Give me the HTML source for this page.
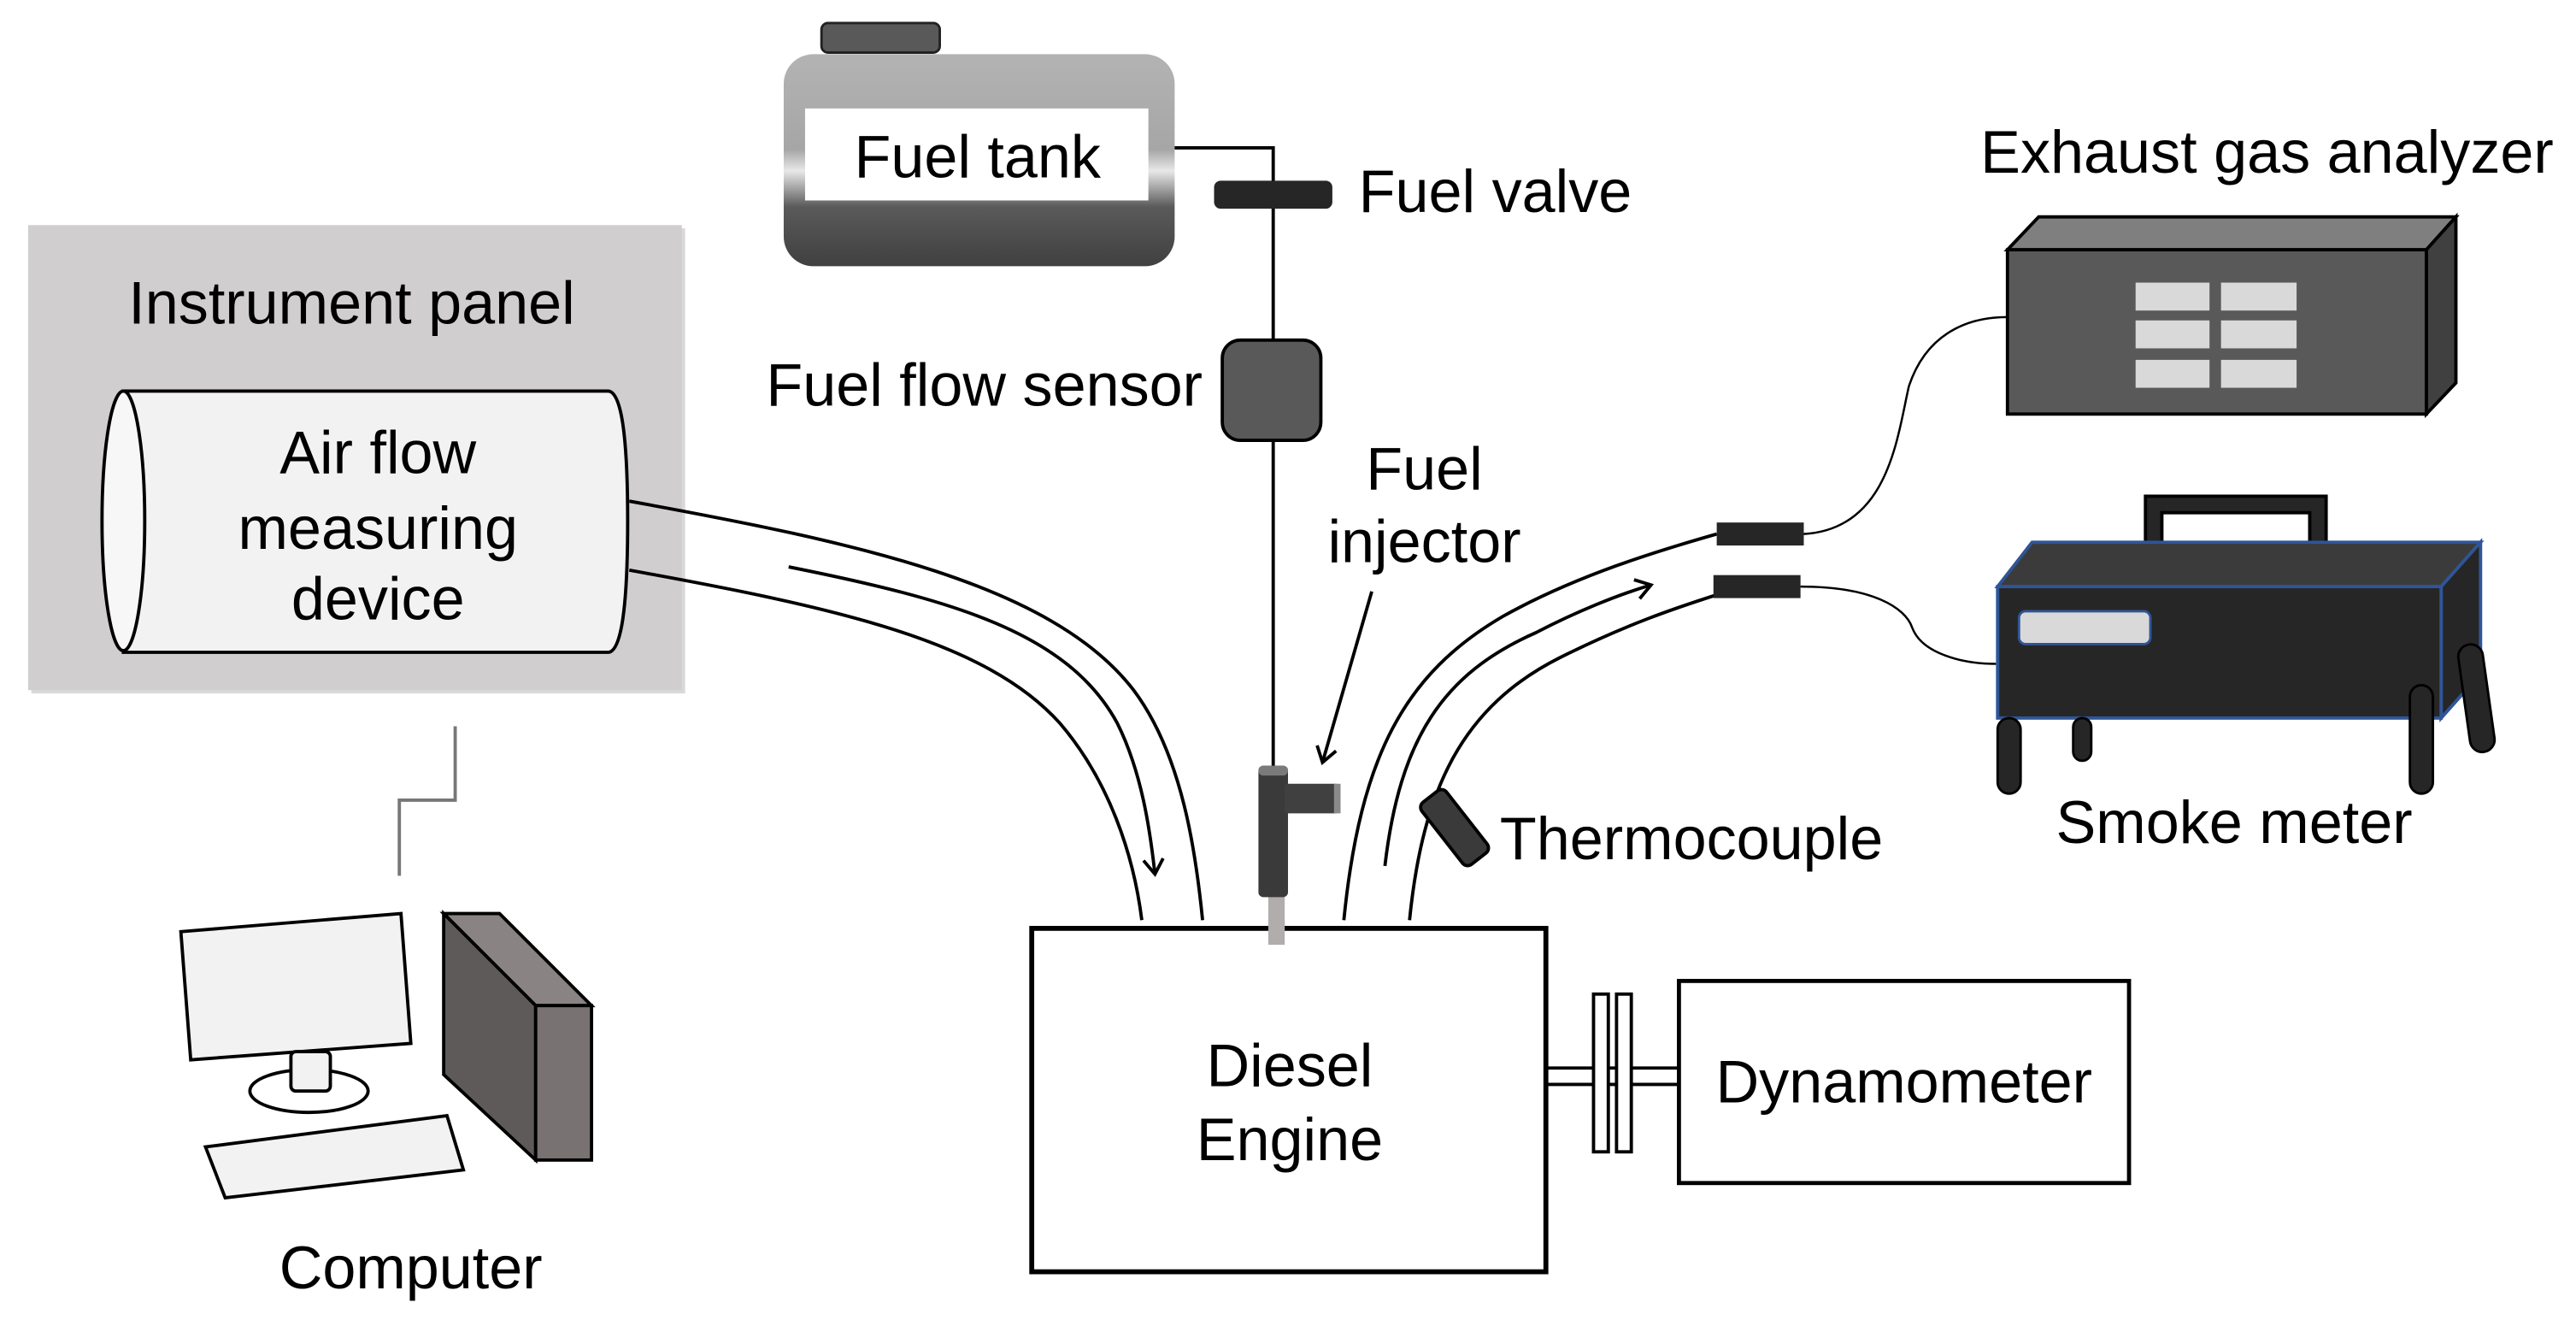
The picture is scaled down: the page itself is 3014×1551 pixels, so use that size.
<!DOCTYPE html>
<html><head><meta charset="utf-8"><style>
html,body{margin:0;padding:0;background:#fff}
svg{display:block}
text{font-family:"Liberation Sans",Arial,sans-serif;fill:#000;font-size:36.5px}
</style></head><body>
<svg width="3014" height="1551" viewBox="0 0 1568 807" xmlns="http://www.w3.org/2000/svg">
<defs>
<linearGradient id="tg" x1="0" y1="0" x2="0" y2="1">
<stop offset="0" stop-color="#b3b3b3"/><stop offset="0.45" stop-color="#a6a6a6"/><stop offset="0.55" stop-color="#e8e8e8"/><stop offset="0.72" stop-color="#5a5a5a"/><stop offset="1" stop-color="#404040"/>
</linearGradient>
<marker id="ah" markerWidth="14" markerHeight="14" refX="10" refY="7" orient="auto" markerUnits="userSpaceOnUse">
<path d="M1,1 L10,7 L1,13" fill="none" stroke="#000" stroke-width="2"/>
</marker>
</defs>
<rect width="1568" height="807" fill="#fff"/>

<rect x="19" y="139" width="398" height="283" fill="#bfbfbf" opacity="0.6"/>
<rect x="17" y="137" width="398" height="283" fill="#d0cece"/>
<text x="214" y="197" text-anchor="middle">Instrument panel</text>
<path d="M75,238 L370,238 Q382,238 382,317 Q382,397 370,397 L75,397 Z" fill="#f2f2f2" stroke="#000" stroke-width="2"/>
<ellipse cx="75" cy="317" rx="13" ry="79" fill="#f7f7f7" stroke="#000" stroke-width="2"/>
<text x="230" y="288" text-anchor="middle">Air flow</text>
<text x="230" y="334" text-anchor="middle">measuring</text>
<text x="230" y="377" text-anchor="middle">device</text>

<polyline points="277,442 277,487 243,487 243,533" fill="none" stroke="#777" stroke-width="2"/>

<polygon points="110,567 244,556 250,635 116,645" fill="#f2f2f2" stroke="#000" stroke-width="2"/>
<ellipse cx="188" cy="664" rx="36" ry="13" fill="#fff" stroke="#000" stroke-width="2"/>
<rect x="177" y="640" width="24" height="24" rx="3" fill="#f2f2f2" stroke="#000" stroke-width="2"/>
<polygon points="125,698 272,679 282,712 137,729" fill="#f2f2f2" stroke="#000" stroke-width="2"/>
<polygon points="270,556 304,556 360,612 326,612" fill="#898483" stroke="#000" stroke-width="2"/>
<polygon points="270,556 326,612 326,706 270,654" fill="#5e5a59" stroke="#000" stroke-width="2"/>
<rect x="326" y="612" width="34" height="94" fill="#787372" stroke="#000" stroke-width="2"/>
<text x="250" y="784" text-anchor="middle">Computer</text>

<rect x="500" y="14" width="72" height="18" rx="4" fill="#595959" stroke="#222" stroke-width="1.5"/>
<rect x="477" y="33" width="238" height="129" rx="18" fill="url(#tg)"/>
<rect x="490" y="66" width="209" height="56" fill="#fff"/>
<text x="595" y="108" text-anchor="middle">Fuel tank</text>
<polyline points="715,90 775,90 775,468" fill="none" stroke="#000" stroke-width="2"/>
<rect x="739" y="110" width="72" height="17" rx="4" fill="#262626"/>
<text x="827" y="129">Fuel valve</text>
<rect x="744" y="207" width="60" height="61" rx="11" fill="#595959" stroke="#000" stroke-width="2"/>
<text x="732" y="247" text-anchor="end">Fuel flow sensor</text>
<text x="867" y="298" text-anchor="middle">Fuel</text>
<text x="867" y="342" text-anchor="middle">injector</text>
<line x1="835" y1="360" x2="805" y2="464" stroke="#000" stroke-width="2" marker-end="url(#ah)"/>

<rect x="772" y="545" width="10" height="30" fill="#b0adac"/>
<rect x="766" y="466" width="18" height="80" rx="3" fill="#3a3a3a"/>
<rect x="766" y="466" width="18" height="6" rx="3" fill="#7a7a7a"/>
<rect x="782" y="477" width="33" height="18" rx="2" fill="#404040"/>
<rect x="812" y="477" width="4" height="18" fill="#8a8a8a"/>

<path d="M383,305 C520,330 640,355 690,420 C720,460 728,520 732,560" fill="none" stroke="#000" stroke-width="2"/>
<path d="M383,347 C510,370 600,390 645,440 C675,475 690,520 695,560" fill="none" stroke="#000" stroke-width="2"/>
<path d="M480,345 C580,365 650,385 680,440 C695,470 700,505 703,532" fill="none" stroke="#000" stroke-width="2" marker-end="url(#ah)"/>

<path d="M818,560 C828,460 855,410 915,375 C960,350 1010,335 1045,325" fill="none" stroke="#000" stroke-width="2"/>
<path d="M858,560 C866,480 890,430 950,400 C990,380 1020,370 1045,362" fill="none" stroke="#000" stroke-width="2"/>
<path d="M843,527 C852,450 878,410 935,385 C960,372 985,362 1005,356" fill="none" stroke="#000" stroke-width="2" marker-end="url(#ah)"/>
<rect x="1045" y="318" width="53" height="14" fill="#262626"/>
<rect x="1043" y="350" width="53" height="14" fill="#262626"/>
<path d="M1098,325 C1150,322 1155,265 1162,235 C1172,205 1195,193 1222,193" fill="none" stroke="#000" stroke-width="1.3"/>
<path d="M1096,357 C1140,357 1160,370 1164,382 C1170,398 1195,404 1215,404" fill="none" stroke="#000" stroke-width="1.3"/>

<rect x="876" y="480" width="19" height="48" rx="4" fill="#3a3a3a" stroke="#000" stroke-width="2" transform="rotate(-38 885 504)"/>
<text x="913" y="523">Thermocouple</text>

<text x="1380" y="105" text-anchor="middle">Exhaust gas analyzer</text>
<polygon points="1222,152 1241,132 1495,132 1477,152" fill="#7f7f7f" stroke="#000" stroke-width="2"/>
<polygon points="1477,152 1495,132 1495,233 1477,252" fill="#404040" stroke="#000" stroke-width="2"/>
<rect x="1222" y="152" width="255" height="100" fill="#595959" stroke="#000" stroke-width="2"/>
<g fill="#d9d9d9">
<rect x="1300" y="172" width="45" height="17"/><rect x="1352" y="172" width="46" height="17"/>
<rect x="1300" y="195" width="45" height="17"/><rect x="1352" y="195" width="46" height="17"/>
<rect x="1300" y="219" width="45" height="17"/><rect x="1352" y="219" width="46" height="17"/>
</g>

<path d="M1306,330 L1306,302 L1416,302 L1416,330 L1406,330 L1406,312 L1316,312 L1316,330 Z" fill="#262626" stroke="#000" stroke-width="2"/>
<polygon points="1216,357 1237,330 1510,330 1486,357" fill="#3b3b3b" stroke="#2f5597" stroke-width="2"/>
<polygon points="1486,357 1510,330 1510,410 1486,437" fill="#262626" stroke="#2f5597" stroke-width="2"/>
<rect x="1216" y="357" width="270" height="80" fill="#262626" stroke="#2f5597" stroke-width="2"/>
<rect x="1229" y="372" width="80" height="20" rx="4" fill="#d9d9d9" stroke="#2f5597" stroke-width="1.5"/>
<g fill="#262626" stroke="#000" stroke-width="1.5">
<rect x="1216" y="437" width="14" height="46" rx="7"/>
<rect x="1262" y="437" width="11" height="26" rx="5.5"/>
<rect x="1467" y="417" width="14" height="66" rx="7"/>
<rect x="1500" y="392" width="15" height="66" rx="7.5" transform="rotate(-8 1507 425)"/>
</g>
<text x="1360" y="513" text-anchor="middle">Smoke meter</text>

<rect x="628" y="565" width="313" height="209" fill="#fff" stroke="#000" stroke-width="3"/>
<rect x="772" y="560" width="10" height="15" fill="#b0adac"/>
<text x="785" y="661" text-anchor="middle">Diesel</text>
<text x="785" y="706" text-anchor="middle">Engine</text>

<line x1="942" y1="650" x2="1022" y2="650" stroke="#000" stroke-width="2"/>
<line x1="942" y1="660" x2="1022" y2="660" stroke="#000" stroke-width="2"/>
<rect x="970" y="605" width="9" height="96" fill="#fff" stroke="#000" stroke-width="2"/>
<rect x="984" y="605" width="9" height="96" fill="#fff" stroke="#000" stroke-width="2"/>

<rect x="1022" y="597" width="274" height="123" fill="#fff" stroke="#000" stroke-width="2.5"/>
<text x="1159" y="671" text-anchor="middle">Dynamometer</text>
</svg>
</body></html>
